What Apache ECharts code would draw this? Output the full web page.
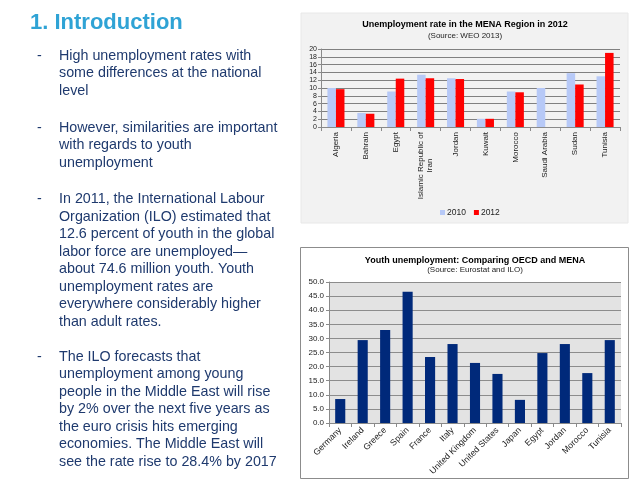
<!DOCTYPE html>
<html>
<head>
<meta charset="utf-8">
<script src="https://cdn.jsdelivr.net/npm/echarts@6/dist/echarts.min.js"></script>
<style>
html,body{margin:0;padding:0;background:#fff;}
#c{width:638px;height:494px;}
</style>
</head>
<body>
<div id="c"></div>
<script>
// ---- Data ----
const menaCountries = ['Algeria','Bahrain','Egypt','Islamic Republic of\nIran            ','Jordan','Kuwait','Morocco','Saudi Arabia','Sudan','Tunisia'];
const mena2010 = [10.0, 3.6, 9.1, 13.4, 12.5, 2.1, 9.1, 10.0, 13.8, 13.0];
const mena2012 = [9.7, 3.4, 12.4, 12.5, 12.3, 2.1, 8.9, null, 10.9, 19.0];
const menaTicks = [0,2,4,6,8,10,12,14,16,18,20];

const youthCountries = ['Germany','Ireland','Greece','Spain','France','Italy','United Kingdom','United States','Japan','Egypt','Jordan','Morocco','Tunisia'];
const youthRates = [8.5, 29.4, 33.0, 46.5, 23.4, 28.0, 21.3, 17.4, 8.2, 24.8, 28.0, 17.7, 29.4];
const youthTicks = [0,5,10,15,20,25,30,35,40,45,50];

const slideTitle = '1. Introduction';
const paragraphs = [
  ['High unemployment rates with','some differences at the national','level'],
  ['However, similarities are important','with regards to youth','unemployment'],
  ['In 2011, the International Labour','Organization (ILO) estimated that','12.6 percent of youth in the global','labor force are unemployed\u2014','about 74.6 million youth. Youth','unemployment rates are','everywhere considerably higher','than adult rates.'],
  ['The ILO forecasts that','unemployment among young','people in the Middle East will rise','by 2% over the next five years as','the euro crisis hits emerging','economies. The Middle East will','see the rate rise to 28.4% by 2017']
];
const paraStartY = [56, 128, 199.5, 357];

// ---- Build ----
const FF = '"Liberation Sans", Arial, Helvetica, sans-serif';
const textColor = '#1f3a6e';
const graphics = [];
graphics.push({type:'rect', z:-10, silent:true, shape:{x:301,y:13,width:327,height:210}, style:{fill:'#f2f2f2', stroke:'#e8e8e8', lineWidth:1}});
graphics.push({type:'rect', z:-10, silent:true, shape:{x:300.5,y:247.5,width:328,height:231}, style:{fill:'#ffffff', stroke:'#8c8c8c', lineWidth:1}});
graphics.push({type:'text', x:30, y:23, style:{text:slideTitle, font:'bold 22px '+FF, fill:'#2fa3d5', verticalAlign:'middle'}});
const LH = 17.45;
paragraphs.forEach((lines, pi) => {
  graphics.push({type:'text', x:37, y:paraStartY[pi], style:{text:'-', font:'14.3px '+FF, fill:textColor, verticalAlign:'middle'}});
  lines.forEach((ln, li) => {
    graphics.push({type:'text', x:59, y:paraStartY[pi] + li*LH, style:{text:ln, font:'14.3px '+FF, fill:textColor, verticalAlign:'middle'}});
  });
});

const chart = echarts.init(document.getElementById('c'), null, {renderer:'canvas', width:638, height:494});
const axisGrey = '#8a8a8a';
chart.setOption({
  animation:false,
  backgroundColor:'#ffffff',
  textStyle:{fontFamily:FF},
  graphic: graphics,
  title:[
    {text:'Unemployment rate in the MENA Region in 2012', subtext:'(Source: WEO 2013)', left:465, top:20, textAlign:'center', itemGap:3,
     textStyle:{fontSize:9, fontWeight:'bold', color:'#000', fontFamily:FF}, subtextStyle:{fontSize:8, color:'#222', fontFamily:FF}, padding:0},
    {text:'Youth unemployment: Comparing OECD and MENA', subtext:'(Source: Eurostat and ILO)', left:475, top:256, textAlign:'center', itemGap:1,
     textStyle:{fontSize:9, fontWeight:'bold', color:'#000', fontFamily:FF}, subtextStyle:{fontSize:8, color:'#222', fontFamily:FF}, padding:0}
  ],
  legend:{data:['2010','2012'], left:440, top:208, padding:0, itemWidth:5, itemHeight:5, itemGap:8, icon:'rect',
    textStyle:{fontSize:8.5, color:'#222', fontFamily:FF, padding:[0,0,0,-3]}},
  grid:[
    {left:321, top:49, width:299, height:78, containLabel:false},
    {left:329, top:282, width:292, height:141, containLabel:false, show:true, backgroundColor:'#e3e3e3', borderWidth:0}
  ],
  xAxis:[
    {type:'category', gridIndex:0, data:menaCountries,
      axisLine:{lineStyle:{color:axisGrey}}, axisTick:{show:true, interval:0, length:4, lineStyle:{color:axisGrey}},
      axisLabel:{rotate:90, interval:0, fontSize:8, color:'#222', margin:5, lineHeight:9, fontFamily:FF}},
    {type:'category', gridIndex:1, data:youthCountries,
      axisLine:{lineStyle:{color:axisGrey}}, axisTick:{show:true, interval:0, length:4, lineStyle:{color:axisGrey}},
      axisLabel:{rotate:45, interval:0, fontSize:8.7, color:'#222', margin:6, fontFamily:FF}}
  ],
  yAxis:[
    {type:'value', gridIndex:0, min:menaTicks[0], max:menaTicks[menaTicks.length-1], interval:2,
      axisLine:{show:true, lineStyle:{color:axisGrey}}, axisTick:{show:true, length:3, lineStyle:{color:axisGrey}},
      splitLine:{lineStyle:{color:'#808080', width:1}},
      axisLabel:{fontSize:7, color:'#222', margin:4, fontFamily:FF, showMinLabel:true, showMaxLabel:true, hideOverlap:false}},
    {type:'value', gridIndex:1, min:youthTicks[0], max:youthTicks[youthTicks.length-1], interval:5,
      axisLine:{show:true, lineStyle:{color:axisGrey}}, axisTick:{show:true, length:3, lineStyle:{color:axisGrey}},
      splitLine:{lineStyle:{color:'#8c8c8c', width:1}},
      axisLabel:{fontSize:8, color:'#222', margin:5, fontFamily:FF, formatter:v=>v.toFixed(1), showMinLabel:true, showMaxLabel:true}}
  ],
  series:[
    {name:'2010', type:'bar', xAxisIndex:0, yAxisIndex:0, data:mena2010, barGap:'0%', barCategoryGap:'43%', itemStyle:{color:'#b7c9f7'}},
    {name:'2012', type:'bar', xAxisIndex:0, yAxisIndex:0, data:mena2012, barGap:'0%', barCategoryGap:'43%', itemStyle:{color:'#ff0000'}},
    {name:'Youth', type:'bar', xAxisIndex:1, yAxisIndex:1, data:youthRates, barCategoryGap:'55%', itemStyle:{color:'#00297a'}}
  ]
});
</script>
</body>
</html>
